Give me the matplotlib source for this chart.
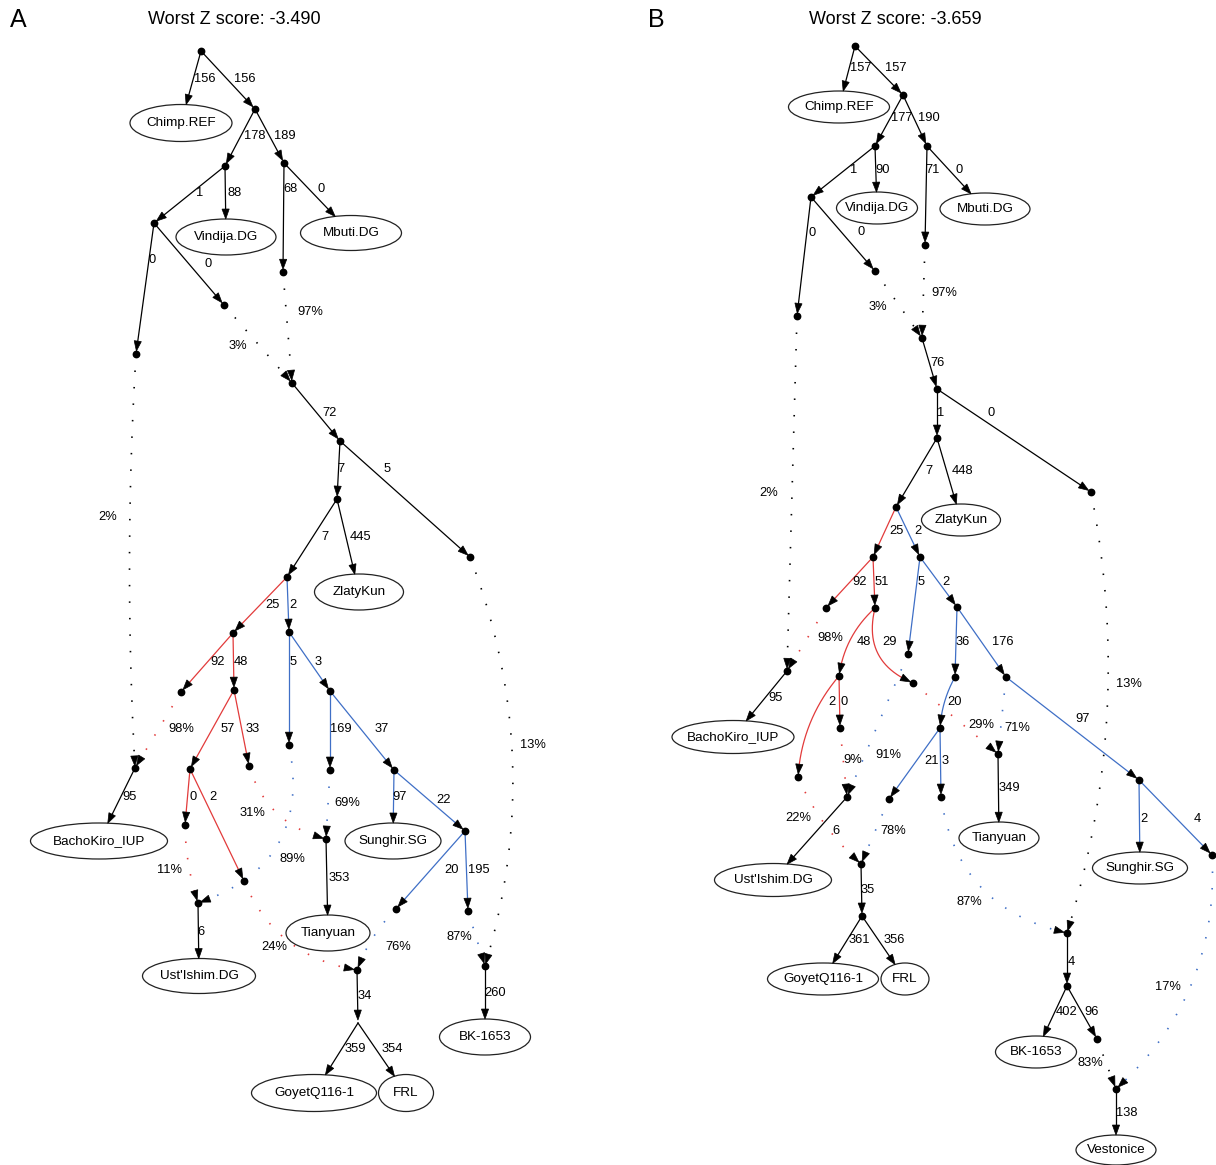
import numpy as np
import matplotlib.pyplot as plt
from matplotlib.patches import Ellipse, Polygon

plt.rcParams['font.family'] = ['Liberation Sans', 'DejaVu Sans']

RED = '#e23b3b'
BLUE = '#3f6fc6'
COLORS = {'k': 'black', 'r': RED, 'b': BLUE}

# ---------------- panel A: graph data ----------------
title_A = 'Worst Z score: -3.490'

# (source, target, fitted value, lineage colour)  -- "%" values are admixture edges
edges_A = [
    ('r', 'Chimp.REF', '156', 'k'), ('r', 'a1', '156', 'k'),
    ('a1', 'a2', '178', 'k'), ('a1', 'a3', '189', 'k'),
    ('a2', 'a4', '1', 'k'), ('a2', 'Vindija.DG', '88', 'k'),
    ('a3', 'a5', '68', 'k'), ('a3', 'Mbuti.DG', '0', 'k'),
    ('a4', 'a6', '0', 'k'), ('a4', 'a7', '0', 'k'),
    ('a5', 'a8', '97%', 'k'), ('a7', 'a8', '3%', 'k'),
    ('a8', 'a9', '72', 'k'), ('a9', 'a10', '7', 'k'), ('a9', 'a11', '5', 'k'),
    ('a10', 'a12', '7', 'k'), ('a10', 'ZlatyKun', '445', 'k'),
    ('a12', 'a13', '25', 'r'), ('a12', 'a14', '2', 'b'),
    ('a13', 'a15', '92', 'r'), ('a13', 'a16', '48', 'r'),
    ('a14', 'a17', '5', 'b'), ('a14', 'a18', '3', 'b'),
    ('a16', 'a19', '57', 'r'), ('a16', 'a20', '33', 'r'),
    ('a18', 'a21', '169', 'b'), ('a18', 'a22', '37', 'b'),
    ('a6', 'a23', '2%', 'k'), ('a15', 'a23', '98%', 'r'),
    ('a11', 'a32', '13%', 'k'),
    ('a23', 'BachoKiro_IUP', '95', 'k'),
    ('a19', 'a24', '0', 'r'), ('a19', 'a25', '2', 'r'),
    ('a20', 'a26', '31%', 'r'), ('a21', 'a26', '69%', 'b'),
    ('a22', 'Sunghir.SG', '97', 'b'), ('a22', 'a28', '22', 'b'),
    ('a24', 'a27', '11%', 'r'), ('a17', 'a27', '89%', 'b'),
    ('a27', "Ust'Ishim.DG", '6', 'k'),
    ('a25', 'a29', '24%', 'r'),
    ('a26', 'Tianyuan', '353', 'k'),
    ('a28', 'a30', '20', 'b'), ('a28', 'a31', '195', 'b'),
    ('a30', 'a29', '76%', 'b'), ('a31', 'a32', '87%', 'b'),
    ('a29', 'a33', '34', 'k'),
    ('a33', 'GoyetQ116-1', '359', 'k'), ('a33', 'FRL', '354', 'k'),
    ('a32', 'BK-1653', '260', 'k'),
]

# ---------------- panel B: graph data ----------------
title_B = 'Worst Z score: -3.659'

edges_B = [
    ('r', 'Chimp.REF', '157', 'k'), ('r', 'b1', '157', 'k'),
    ('b1', 'b2', '177', 'k'), ('b1', 'b3', '190', 'k'),
    ('b2', 'b4', '1', 'k'), ('b2', 'Vindija.DG', '90', 'k'),
    ('b3', 'b5', '71', 'k'), ('b3', 'Mbuti.DG', '0', 'k'),
    ('b4', 'b6', '0', 'k'), ('b4', 'b7', '0', 'k'),
    ('b5', 'b8', '97%', 'k'), ('b7', 'b8', '3%', 'k'),
    ('b8', 'b9', '76', 'k'), ('b9', 'b10', '1', 'k'), ('b9', 'b11', '0', 'k'),
    ('b10', 'b12', '7', 'k'), ('b10', 'ZlatyKun', '448', 'k'),
    ('b12', 'b13', '25', 'r'), ('b12', 'b14', '2', 'b'),
    ('b13', 'b15', '92', 'r'), ('b13', 'b16', '51', 'r'),
    ('b14', 'b17', '5', 'b'), ('b14', 'b18', '2', 'b'),
    ('b16', 'b19', '48', 'r'), ('b16', 'b20', '29', 'r'),
    ('b18', 'b21', '36', 'b'), ('b18', 'b22', '176', 'b'),
    ('b6', 'b23', '2%', 'k'), ('b15', 'b23', '98%', 'r'),
    ('b23', 'BachoKiro_IUP', '95', 'k'),
    ('b19', 'b24', '2', 'r'), ('b19', 'b25', '0', 'r'),
    ('b21', 'b26', '20', 'b'),
    ('b20', 'b27', '29%', 'r'), ('b22', 'b27', '71%', 'b'),
    ('b22', 'b28', '97', 'b'),
    ('b11', 'b35', '13%', 'k'),
    ('b25', 'b29', '9%', 'r'), ('b17', 'b29', '91%', 'b'),
    ('b26', 'b30', '21', 'b'), ('b26', 'b31', '3', 'b'),
    ('b27', 'Tianyuan', '349', 'k'),
    ('b29', "Ust'Ishim.DG", '6', 'k'),
    ('b24', 'b33', '22%', 'r'), ('b30', 'b33', '78%', 'b'),
    ('b33', 'b34', '35', 'k'),
    ('b34', 'GoyetQ116-1', '361', 'k'), ('b34', 'FRL', '356', 'k'),
    ('b31', 'b35', '87%', 'b'),
    ('b28', 'Sunghir.SG', '2', 'b'), ('b28', 'b39', '4', 'b'),
    ('b35', 'b36', '4', 'k'),
    ('b36', 'BK-1653', '402', 'k'), ('b36', 'b37', '96', 'k'),
    ('b37', 'b38', '83%', 'k'), ('b39', 'b38', '17%', 'b'),
    ('b38', 'Vestonice', '138', 'k'),
]

# ---------------- layout (pixel space, y down) ----------------
nodes_A = {
    'r': (201, 51), 'a1': (255, 109), 'a2': (225, 166), 'a3': (284, 163),
    'a4': (154, 223), 'a5': (283, 272), 'a6': (136, 354), 'a7': (224, 305),
    'a8': (292, 383), 'a9': (340, 441), 'a10': (337, 499), 'a11': (470, 557),
    'a12': (287, 577), 'a13': (233, 633), 'a14': (289, 632), 'a15': (181, 692),
    'a16': (234, 690), 'a17': (289, 745), 'a18': (330, 691), 'a19': (190, 769),
    'a20': (249, 766), 'a21': (330, 770), 'a22': (394, 770), 'a23': (135, 768),
    'a24': (185, 825), 'a25': (244, 881), 'a26': (326, 839), 'a27': (198, 903),
    'a28': (465, 831), 'a29': (357, 970), 'a30': (396, 909), 'a31': (468, 911),
    'a32': (485, 966), 'a33': (358, 1023),
}
hidden_A = ['a33']
leaves_A = {
    'Chimp.REF': (181, 123, 102, 37), 'Vindija.DG': (226, 237, 100, 36),
    'Mbuti.DG': (351, 233, 101, 35), 'ZlatyKun': (359, 592, 89, 36),
    'BachoKiro_IUP': (99, 841, 137, 36), 'Sunghir.SG': (393, 841, 96, 36),
    "Ust'Ishim.DG": (199, 976, 113, 35), 'Tianyuan': (328, 933, 84, 36),
    'GoyetQ116-1': (314, 1093, 125, 37), 'FRL': (406, 1093, 55, 37),
    'BK-1653': (485, 1037, 91, 36),
}
label_xy_A = [
    (205, 79), (245, 79), (255, 136), (285, 136), (200, 193), (235, 193),
    (290, 189), (321, 189), (152, 260), (208, 264), (310, 312), (238, 346),
    (330, 413), (341, 469), (387, 469), (325, 537), (360, 537), (272, 605),
    (293, 605), (218, 662), (241, 662), (293, 662), (318, 662), (228, 729),
    (253, 729), (341, 729), (382, 729), (108, 517), (181, 729), (533, 745),
    (130, 797), (193, 797), (213, 797), (252, 813), (347, 803), (400, 797),
    (444, 800), (169, 870), (292, 859), (201, 932), (274, 947), (339, 878),
    (452, 870), (479, 870), (398, 947), (459, 937), (365, 996), (355, 1049),
    (392, 1049), (495, 993),
]
bend_A = {('a11', 'a32'): -35, ('a6', 'a23'): 6, ('a17', 'a27'): -40,
          ('a20', 'a26'): 15, ('a25', 'a29'): 20, ('a30', 'a29'): 4,
          ('a24', 'a27'): 3}

nodes_B = {
    'r': (855, 46), 'b1': (903, 95), 'b2': (875, 146), 'b3': (927, 146),
    'b4': (811, 197), 'b5': (925, 245), 'b6': (797, 316), 'b7': (875, 271),
    'b8': (922, 338), 'b9': (937, 389), 'b10': (937, 438), 'b11': (1091, 492),
    'b12': (896, 507), 'b13': (873, 557), 'b14': (920, 557), 'b15': (826, 608),
    'b16': (875, 608), 'b17': (908, 654), 'b18': (957, 607), 'b19': (839, 676),
    'b20': (913, 683), 'b21': (955, 677), 'b22': (1006, 677), 'b23': (787, 671),
    'b24': (798, 777), 'b25': (840, 728), 'b26': (940, 728), 'b27': (998, 754),
    'b28': (1139, 780), 'b29': (847, 797), 'b30': (889, 799), 'b31': (941, 797),
    'b33': (861, 864), 'b34': (862, 916), 'b35': (1067, 933), 'b36': (1067, 986),
    'b37': (1097, 1039), 'b38': (1116, 1089), 'b39': (1212, 855),
}
hidden_B = []
leaves_B = {
    'Chimp.REF': (839, 107, 101, 32), 'Vindija.DG': (877, 208, 81, 32),
    'Mbuti.DG': (985, 209, 90, 32), 'ZlatyKun': (961, 520, 79, 32),
    'BachoKiro_IUP': (733, 737, 122, 33), "Ust'Ishim.DG": (773, 880, 117, 33),
    'Tianyuan': (999, 838, 80, 32), 'GoyetQ116-1': (823, 979, 111, 32),
    'FRL': (905, 979, 48, 32), 'BK-1653': (1036, 1052, 81, 32),
    'Sunghir.SG': (1140, 868, 95, 32), 'Vestonice': (1116, 1150, 80, 30),
}
label_xy_B = [
    (861, 68), (896, 68), (902, 118), (929, 118), (854, 170), (883, 170),
    (933, 170), (959, 170), (812, 233), (861, 232), (944, 293), (878, 307),
    (938, 363), (941, 413), (991, 413), (929, 471), (962, 471), (897, 531),
    (918, 531), (860, 582), (882, 582), (921, 582), (946, 582), (864, 642),
    (890, 642), (963, 642), (1003, 642), (769, 493), (830, 638), (776, 698),
    (832, 702), (844, 702), (955, 702), (981, 725), (1017, 728), (1083, 719),
    (1129, 684), (853, 760), (888, 755), (932, 761), (945, 761), (1009, 788),
    (836, 831), (798, 818), (893, 831), (868, 890), (859, 940), (894, 940),
    (969, 902), (1144, 819), (1197, 819), (1071, 962), (1067, 1012),
    (1092, 1012), (1090, 1063), (1168, 987), (1127, 1113),
]
bend_B = {('b16', 'b19'): 7, ('b16', 'b20'): 18, ('b19', 'b24'): 9,
          ('b11', 'b35'): -28, ('b39', 'b38'): -30, ('b31', 'b35'): 32,
          ('b21', 'b26'): 3, ('b24', 'b33'): 6}

ARROW_LEN = 10.0
ARROW_HW = 3.6
DOT_R = 3.0


def draw_edge(ax, p0, p1, bend, color, dotted, leaf):
    p0 = np.asarray(p0, float)
    p1 = np.asarray(p1, float)
    d = p1 - p0
    n = np.array([-d[1], d[0]]) / np.hypot(*d)
    c = (p0 + p1) / 2 + 2 * bend * n
    t = np.linspace(0, 1, 400)[:, None]
    pts = (1 - t) ** 2 * p0 + 2 * (1 - t) * t * c + t ** 2 * p1
    if leaf is not None:
        cx, cy, w, h = leaf
        inside = ((pts[:, 0] - cx) / (w / 2)) ** 2 + ((pts[:, 1] - cy) / (h / 2)) ** 2 <= 1
    else:
        inside = np.hypot(pts[:, 0] - p1[0], pts[:, 1] - p1[1]) <= DOT_R
    tip_i = np.argmax(inside)
    tip = pts[tip_i]
    dist = np.hypot(pts[:tip_i, 0] - tip[0], pts[:tip_i, 1] - tip[1])
    base_i = np.where(dist >= ARROW_LEN)[0][-1]
    base = pts[base_i]
    u = (tip - base) / np.hypot(*(tip - base))
    base = tip - u * ARROW_LEN
    line = np.vstack([pts[:base_i + 1], base])
    if dotted:
        ax.plot(line[:, 0], line[:, 1], color=color, lw=1.2,
                linestyle=(0, (0.9, 9.0)), solid_capstyle='round', zorder=2)
    else:
        ax.plot(line[:, 0], line[:, 1], color=color, lw=0.9, zorder=2)
    perp = np.array([-u[1], u[0]])
    ax.add_patch(Polygon([tip, base + perp * ARROW_HW, base - perp * ARROW_HW],
                         closed=True, facecolor='black', edgecolor='black',
                         lw=0.5, zorder=4))


def draw_graph(ax, edges, nodes, leaves, label_xy, bends, hidden):
    for (src, dst, val, col), (lx, ly) in zip(edges, label_xy):
        p0 = nodes[src]
        if dst in leaves:
            p1 = leaves[dst][:2]
            leaf = leaves[dst]
        else:
            p1 = nodes[dst]
            leaf = None
        dotted = val.endswith('%')
        draw_edge(ax, p0, p1, bends.get((src, dst), 0), COLORS[col], dotted, leaf)
        ax.text(lx, ly, val, fontsize=9.3, ha='center', va='center', zorder=5)
    for name, (x, y) in nodes.items():
        if name in hidden:
            continue
        ax.plot(x, y, 'o', color='black', ms=4.6, zorder=6)
    for name, (cx, cy, w, h) in leaves.items():
        ax.add_patch(Ellipse((cx, cy), w, h, facecolor='white',
                             edgecolor='#222222', lw=0.9, zorder=3))
        ax.text(cx, cy, name, fontsize=9.7, ha='center', va='center', zorder=5)


fig = plt.figure(figsize=(12.16, 11.65), dpi=100)
ax = fig.add_axes([0, 0, 1, 1])
ax.set_xlim(0, 1216)
ax.set_ylim(1165, 0)
ax.axis('off')

draw_graph(ax, edges_A, nodes_A, leaves_A, label_xy_A, bend_A, hidden_A)
draw_graph(ax, edges_B, nodes_B, leaves_B, label_xy_B, bend_B, hidden_B)

ax.text(10, 20, 'A', fontsize=18, ha='left', va='center')
ax.text(234, 20, title_A, fontsize=13, ha='center', va='center')
ax.text(648, 20, 'B', fontsize=18, ha='left', va='center')
ax.text(895, 20, title_B, fontsize=13, ha='center', va='center')

fig.savefig('out.png', dpi=100, facecolor='white')
